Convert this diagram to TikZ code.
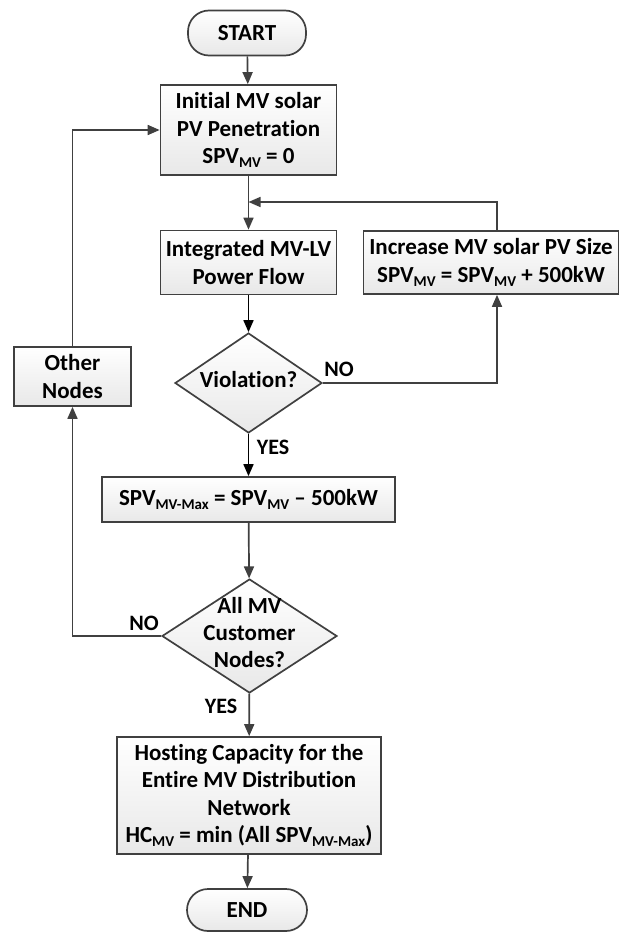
\documentclass[tikz,border=0pt]{standalone}
\usepackage{fontspec}
\setmainfont{Carlito}[Ligatures={NoCommon}]
\usetikzlibrary{shapes.geometric,arrows.meta}
\newcommand\sbx[1]{\raisebox{-0.35ex}{\fontsize{15}{15}\selectfont #1}}
\newcommand\dtext[1]{\makebox[0pt]{\smash{\raisebox{-0.25em}{\begin{tabular}[c]{@{}c@{}}#1\end{tabular}}}}}
\definecolor{ln}{HTML}{404040}
\tikzset{
  box/.style={draw=ln, line width=1.7pt, rectangle, top color=white, bottom color=gray!18, align=center, inner sep=0pt, font=\bfseries\fontsize{23}{27.5}\selectfont},
  term/.style={box, rounded corners=21pt},
  dia/.style={draw=ln, line width=1.7pt, diamond, top color=white, bottom color=gray!18, inner sep=0pt, font=\bfseries\fontsize{23}{27}\selectfont},
  arr/.style={draw=ln, line width=1.7pt, -{Triangle[length=12pt,width=10pt]}},
  lbl/.style={font=\bfseries\fontsize{22}{24}\selectfont, inner sep=0pt}
}
\begin{document}
\begin{tikzpicture}[x=1pt,y=-1pt]
\useasboundingbox (0,0) rectangle (619,933);
\node[term, minimum width=118pt, minimum height=45pt] (start) at (247,33) {START};
\node[box, minimum width=176pt, minimum height=90pt] (init) at (248.5,130) {Initial MV solar\\PV Penetration\\SPV\sbx{MV} = 0};
\node[box, minimum width=176pt, minimum height=64pt] (integ) at (248.5,262.5) {Integrated MV-LV\\Power Flow};
\node[box, minimum width=255pt, minimum height=63pt] (incr) at (491,262.5) {Increase MV solar PV Size\\SPV\sbx{MV} = SPV\sbx{MV} + 500kW};
\node[dia, minimum width=147pt, minimum height=100pt] (viol) at (248.5,383) {\dtext{Violation?}};
\node[box, minimum width=293pt, minimum height=45pt] (max) at (248.5,499.5) {SPV\sbx{MV-Max} = SPV\sbx{MV} -- 500kW};
\node[dia, minimum width=175pt, minimum height=114pt] (all) at (249.5,636) {\dtext{All MV\\Customer\\Nodes?}};
\node[box, minimum width=117pt, minimum height=59pt] (other) at (72.5,376.5) {Other\\Nodes};
\node[box, minimum width=264pt, minimum height=117pt] (host) at (249,795.5) {Hosting Capacity for the\\Entire MV Distribution\\Network\\HC\sbx{MV} = min (All SPV\sbx{MV-Max})};
\node[term, minimum width=120pt, minimum height=42pt] (end) at (247,910) {END};
\coordinate (j1) at (248.5,202);
\draw[arr] (start) -- (init);
\draw[arr] (init) -- (integ);
\draw[arr] ([xshift=6pt]incr.north) |- (j1);
\draw[arr, draw=black] (integ) -- (viol);
\draw[arr] (viol.east) -| ([xshift=6pt]incr.south);
\draw[arr, draw=black] (viol) -- (max);
\draw[arr] (max) -- (all);
\draw[arr] (all.west) -| (other.south);
\draw[arr] (other.north) |- (init.west);
\draw[arr] (all) -- (host);
\draw[arr] (host) -- (end);
\node[lbl] (no1) at (339,369) {NO};
\node[lbl] (yes1) at (273,447) {YES};
\node[lbl] (no2) at (144,623) {NO};
\node[lbl] (yes2) at (221,706) {YES};
\end{tikzpicture}
\end{document}
